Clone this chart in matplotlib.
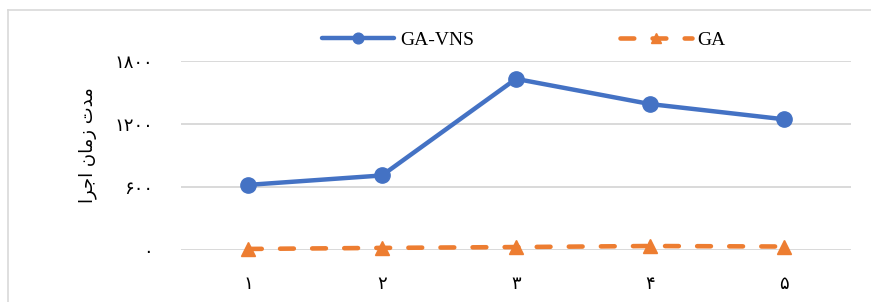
import matplotlib
matplotlib.use("Agg")
import matplotlib.pyplot as plt
from matplotlib.lines import Line2D

# data
runs = [1, 2, 3, 4, 5]
run_labels = ["\u06f1", "\u06f2", "\u06f3", "\u06f4", "\u06f5"]
ga_vns = [620, 710, 1630, 1390, 1245]
ga = [10, 20, 28, 38, 33]
y_ticks = [0, 600, 1200, 1800]
y_tick_labels = ["\u06f0", "\u06f6\u06f0\u06f0", "\u06f1\u06f2\u06f0\u06f0", "\u06f1\u06f8\u06f0\u06f0"]
# "مدت زمان اجرا" in presentation forms, visual order
y_label = "\ufe8d\ufeae\ufe9f\ufe8d \ufee5\ufe8e\ufee3\ufeaf \ufe95\ufeaa\ufee3"

blue = "#4472c4"
orange = "#ed7d31"

fig = plt.figure(figsize=(8.71, 3.02), dpi=100)
W, H = 871, 302

# light chart border (top and left only are visible)
bx, by = 8 / W, 1 - 10 / H
fig.lines.append(Line2D([bx, 1.0], [by, by], transform=fig.transFigure, color="#d9d9d9", linewidth=1.2))
fig.lines.append(Line2D([bx, bx], [0.0, by], transform=fig.transFigure, color="#d9d9d9", linewidth=1.2))

ax = fig.add_axes([181 / W, (H - 250) / H, 670 / W, (250 - 61) / H])

ax.plot(runs, ga_vns, color=blue, linewidth=3.2, marker="o", markersize=11,
        label="GA-VNS", clip_on=False, zorder=3, solid_capstyle="round")
ax.plot(runs, ga, color=orange, linewidth=3.3, marker="^", markersize=10,
        dashes=(3.0, 4.0), dash_capstyle="round", label="GA", clip_on=False, zorder=3)

ax.set_xlim(0.5, 5.5)
ax.set_ylim(0, 1800)
ax.set_xticks(runs)
ax.set_xticklabels(run_labels, fontsize=13, family=["DejaVu Sans"])
ax.set_yticks(y_ticks)
ax.set_yticklabels(y_tick_labels, fontsize=13, family=["DejaVu Sans"])
ax.tick_params(axis="both", length=0)
ax.tick_params(axis="y", pad=20)
ax.tick_params(axis="x", pad=18)
ax.grid(axis="y", color="#d9d9d9", linewidth=1.4)
ax.set_axisbelow(True)
for s in ax.spines.values():
    s.set_visible(False)

fig.text(88 / W, 1 - 145 / H, y_label, rotation=90, ha="center", va="center",
         fontsize=13, family=["DejaVu Sans"])

fig.legend(loc="center", bbox_to_anchor=(524 / W, 1 - 40 / H), ncol=2, frameon=False,
           prop={"family": ["Liberation Serif"], "size": 14}, handlelength=3.7,
           columnspacing=7.5, handletextpad=0.3, markerscale=0.7)

fig.savefig("out.png", dpi=100)
